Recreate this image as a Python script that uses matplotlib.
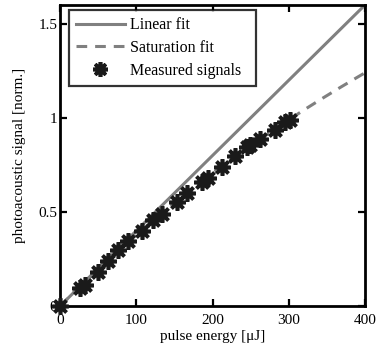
import numpy as np
import matplotlib
matplotlib.use("Agg")
import matplotlib.pyplot as plt

plt.rcParams['font.family'] = ['Liberation Serif', 'DejaVu Serif']
plt.rcParams['mathtext.fontset'] = 'stix'

# Measured photoacoustic signals vs. pulse energy
energy_uJ = [0, 26, 33, 50, 63, 76, 89, 107, 122, 134, 153, 167, 186, 194,
             212, 229, 245, 249, 262, 282, 295, 301]
signal_norm = [0.0, 0.096, 0.11, 0.18, 0.24, 0.30, 0.345, 0.40, 0.46, 0.49,
               0.553, 0.60, 0.66, 0.68, 0.74, 0.80, 0.846, 0.856, 0.89,
               0.936, 0.98, 0.99]

# Fit parameters
linear_slope = 0.004          # norm. per uJ
sat_gain = 0.00409            # norm. per uJ (small-signal)
sat_energy = 1251.0           # uJ

x_fit = np.linspace(0, 400, 200)
y_lin = linear_slope * x_fit
y_sat = sat_gain * x_fit / (1 + x_fit / sat_energy)

x_ticks = [0, 100, 200, 300, 400]
y_ticks = [0, 0.5, 1, 1.5]
y_tick_labels = ['0', '0.5', '1', '1.5']

fig = plt.figure(figsize=(3.8, 3.49), dpi=100)
ax = fig.add_axes([0.158, 0.123, 0.8025, 0.8627])

gray = '#808080'
ax.plot(x_fit, y_lin, color=gray, lw=2.2, label='Linear fit', zorder=2)
ax.plot(x_fit, y_sat, color=gray, lw=2.2, ls=(0, (3.5, 2.6)),
        label='Saturation fit', zorder=2)
ax.plot(energy_uJ, signal_norm, ls='none', marker=(8, 2, 0), ms=12,
        mew=2.6, color='#1a1a1a', label='Measured signals  ', zorder=3,
        clip_on=False)

ax.set_xlim(0, 400)
ax.set_ylim(0, 1.6)
ax.set_xticks(x_ticks)
ax.set_yticks(y_ticks)
ax.set_yticklabels(y_tick_labels)
ax.tick_params(direction='in', length=5, width=1.6, top=True, right=True,
               labelsize=11, colors='black')
ax.tick_params(axis='x', pad=6)
ax.tick_params(axis='y', pad=2)
for s in ax.spines.values():
    s.set_linewidth(2)

ax.set_xlabel('pulse energy [μJ]', fontsize=11, labelpad=2)
ax.set_ylabel('photoacoustic signal [norm.]', fontsize=11, labelpad=9)

leg = ax.legend(loc='upper left', bbox_to_anchor=(0.029, 0.983),
                fontsize=11.5, frameon=True, fancybox=False,
                edgecolor='black', handlelength=3.05, handletextpad=0.32,
                borderpad=0.45, labelspacing=0.42, borderaxespad=0,
                markerscale=0.9)
leg.get_frame().set_linewidth(1.6)

fig.savefig('out.png', dpi=100)
